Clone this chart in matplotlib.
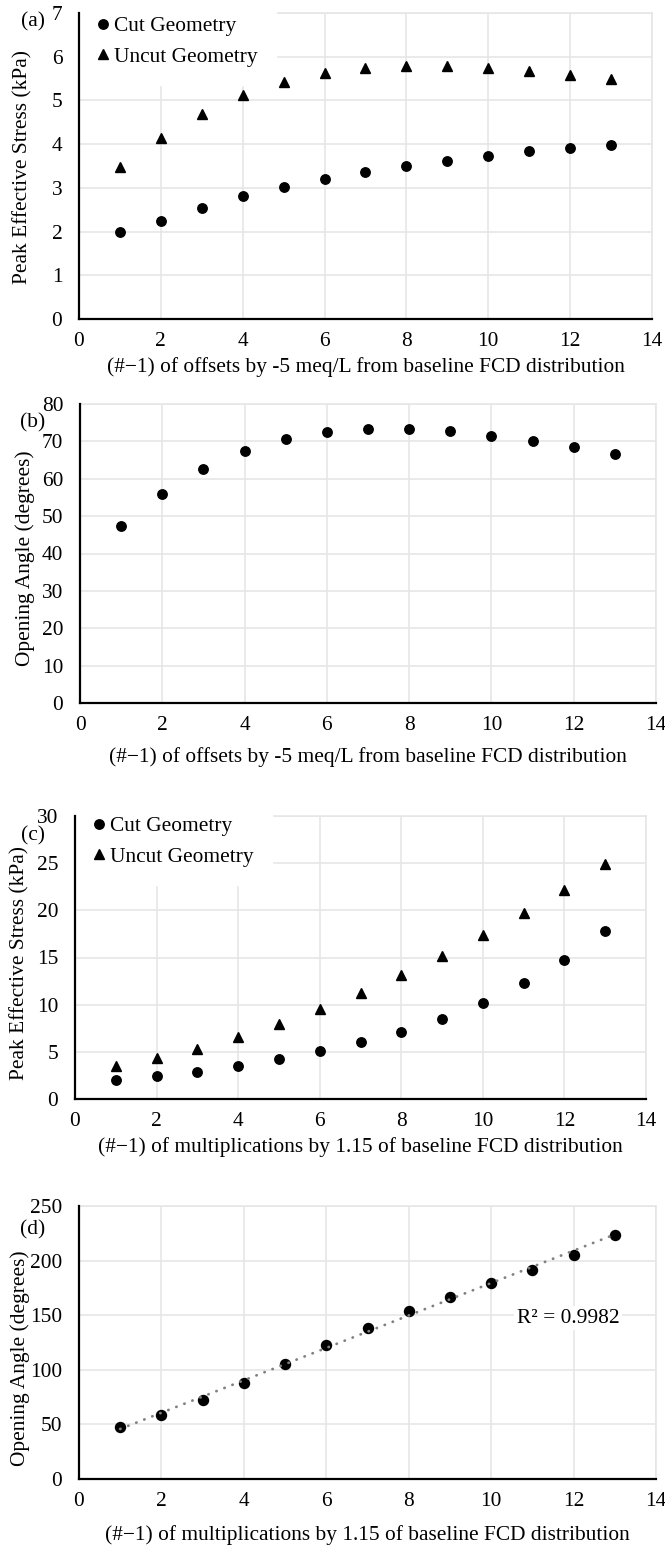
import numpy as np
import matplotlib.pyplot as plt

plt.rcParams['font.family'] = ['Liberation Serif', 'DejaVu Serif']

W, H = 665, 1548
DPI = 100

steps = np.arange(1, 14)

# (a) offsets by -5 meq/L: peak effective stress (kPa)
offset_cut = [1.99, 2.25, 2.55, 2.81, 3.01, 3.20, 3.36, 3.49, 3.61, 3.73, 3.84, 3.91, 3.97]
offset_uncut = [3.48, 4.15, 4.70, 5.12, 5.43, 5.62, 5.74, 5.79, 5.78, 5.74, 5.67, 5.59, 5.50]
# (b) offsets: opening angle (degrees)
offset_angle = [47.3, 56.0, 62.6, 67.3, 70.7, 72.5, 73.3, 73.3, 72.8, 71.5, 70.1, 68.4, 66.5]
# (c) multiplications by 1.15: peak effective stress (kPa)
mult_cut = [1.97, 2.39, 2.89, 3.52, 4.26, 5.11, 6.02, 7.11, 8.45, 10.14, 12.25, 14.72, 17.85]
mult_uncut = [3.52, 4.33, 5.35, 6.62, 7.92, 9.51, 11.23, 13.13, 15.18, 17.39, 19.68, 22.15, 24.96]
# (d) multiplications: opening angle (degrees)
mult_angle = [47.3, 58.8, 72.3, 87.8, 104.9, 122.3, 138.7, 153.7, 167.1, 179.6, 191.8, 205.5, 223.8]
r2_label = 'R² = 0.9982'

xlabel_offsets = '(#\u22121) of offsets by -5 meq/L from baseline FCD distribution'
xlabel_mult = '(#\u22121) of multiplications by 1.15 of baseline FCD distribution'

FS = 15.4
GRID = '#e6e6e6'


def make_axes(fig, left, right, top, bottom):
    # pixel box -> figure fraction
    return fig.add_axes([left / W, 1 - bottom / H, (right - left) / W, (bottom - top) / H])


def style(ax, ymax, ystep, ylabel, xlabel, ylab_x, ylab_y, xlab_dy):
    ax.set_xlim(0, 14)
    ax.set_ylim(0, ymax)
    ax.set_xticks(range(0, 15, 2))
    ax.set_yticks(np.arange(0, ymax + ystep / 2, ystep))
    ax.grid(True, color=GRID, lw=1.2)
    ax.set_axisbelow(True)
    for s in ['top', 'right']:
        ax.spines[s].set_color(GRID)
        ax.spines[s].set_linewidth(1.2)
    for s in ['left', 'bottom']:
        ax.spines[s].set_color('black')
        ax.spines[s].set_linewidth(1.6)
        ax.spines[s].set_zorder(6)   # keep above the legend box
    ax.tick_params(length=0, labelsize=FS)
    ax.tick_params(axis='x', pad=9)
    ax.tick_params(axis='y', pad=12)
    bb = ax.get_position()
    wpx, hpx = bb.width * W, bb.height * H
    top_px = (1 - bb.y1) * H
    ax.set_ylabel(ylabel, fontsize=FS, va='center')
    ax.yaxis.set_label_coords(-(bb.x0 * W - ylab_x) / wpx, 1 - (ylab_y - top_px) / hpx)
    ax.set_xlabel(xlabel, fontsize=FS, va='center')
    ax.xaxis.set_label_coords(0.5, -xlab_dy / hpx)


def add_legend(ax, above):
    hpx = ax.get_position().height * H
    ax.legend(loc='upper left', bbox_to_anchor=(0, 1 + above / hpx), borderaxespad=0,
              frameon=True, facecolor='white', edgecolor='white', framealpha=1,
              fancybox=False, fontsize=FS, handlelength=0.5, handletextpad=0.3,
              borderpad=0.85, labelspacing=0.5)


fig = plt.figure(figsize=(W / DPI, H / DPI), dpi=DPI)

# (a)
ax = make_axes(fig, 79, 652, 13, 319)
ax.plot(steps, offset_cut, 'o', color='black', ms=6.8, label='Cut Geometry')
ax.plot(steps, offset_uncut, '^', color='black', ms=6.8, label='Uncut Geometry')
style(ax, 7, 1, 'Peak Effective Stress (kPa)', xlabel_offsets, 23, 167, 48)
add_legend(ax, 15)
fig.text(33 / W, 1 - 22 / H, '(a)', fontsize=FS, ha='center', va='center')

# (b)
ax = make_axes(fig, 80, 656, 404, 703)
ax.plot(steps, offset_angle, 'o', color='black', ms=6.8)
style(ax, 80, 10, 'Opening Angle (degrees)', xlabel_offsets, 25, 558, 54)
fig.text(33 / W, 1 - 423 / H, '(b)', fontsize=FS, ha='center', va='center')

# (c)
ax = make_axes(fig, 75, 646, 816, 1099)
ax.plot(steps, mult_cut, 'o', color='black', ms=6.8, label='Cut Geometry')
ax.plot(steps, mult_uncut, '^', color='black', ms=6.8, label='Uncut Geometry')
style(ax, 30, 5, 'Peak Effective Stress (kPa)', xlabel_mult, 20, 963, 48)
add_legend(ax, 18)
fig.text(33 / W, 1 - 836 / H, '(c)', fontsize=FS, ha='center', va='center')

# (d) with linear trendline
ax = make_axes(fig, 79, 656, 1206, 1479)
ax.plot(steps, mult_angle, 'o', color='black', ms=7.2, zorder=3)
slope, icpt = np.polyfit(steps, mult_angle, 1)
xs = np.array([steps[0], steps[-1]])
ax.plot(xs, slope * xs + icpt, color='#808080', lw=2.0,
        linestyle=(0, (0.1, 3.0)), dash_capstyle='round', zorder=4)
ax.text(11.87, 147.3, r2_label, fontsize=FS, ha='center', va='center',
        bbox=dict(facecolor='white', edgecolor='none', pad=2))
style(ax, 250, 50, 'Opening Angle (degrees)', xlabel_mult, 20, 1358, 56)
fig.text(33 / W, 1 - 1230 / H, '(d)', fontsize=FS, ha='center', va='center')

fig.savefig('out.png', dpi=DPI)
